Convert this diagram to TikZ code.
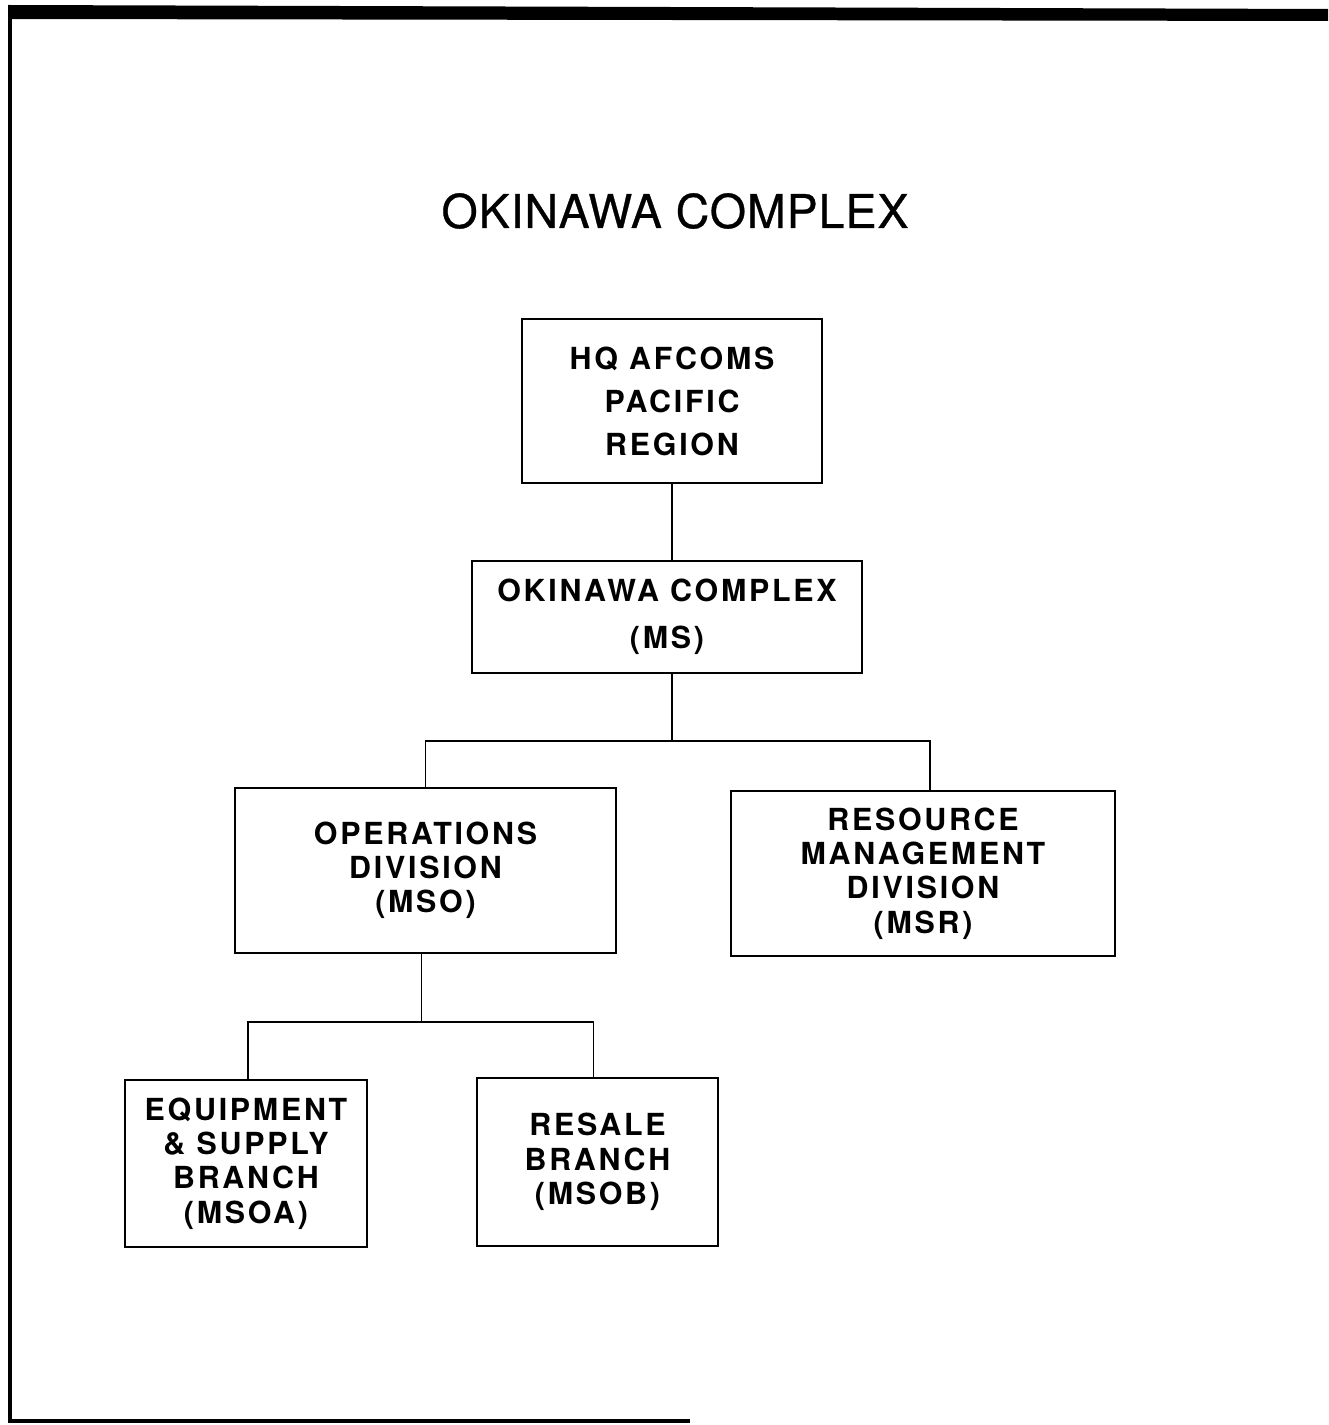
\documentclass[tikz,border=0pt]{standalone}
\usepackage{fontspec}
\setmainfont{TeX Gyre Heros}
\newfontfamily\boxfont[LetterSpace=9]{TeX Gyre Heros}
\newfontfamily\titlefont[LetterSpace=2, FakeBold=0.6]{TeX Gyre Heros}
\usetikzlibrary{calc}
\tikzset{
	orgbox/.style={draw, line width=1.1pt, align=center, inner sep=0pt,
		font={\boxfont\fontsize{17.3}{19.5}\selectfont\bfseries}},
	link/.style={line width=0.8pt},
	heading/.style={font={\titlefont\fontsize{26.5}{30}\selectfont}}
}

\begin{document}
\begin{tikzpicture}[x=0.02cm, y=-0.02cm]
		%%%%% START %%%%%
		\useasboundingbox (0, 0) rectangle (1328, 1425);
		
		\fill[black] (8, 5) -- (1328, 9) -- (1328, 21) -- (8, 19) -- cycle;
		\fill[black] (8, 5) rectangle (12, 1423);
		\fill[black] (8, 1419) rectangle (690, 1423);
		
		\node[heading] (title) at (675, 211) {OKINAWA COMPLEX};
		
		\node[orgbox, minimum width=6cm, minimum height=3.28cm] (hq) at (672, 401) {HQ AFCOMS\\[5pt]PACIFIC\\[5pt]REGION};
		\node[orgbox, minimum width=7.8cm, minimum height=2.24cm] (ms) at (667, 617) {OKINAWA COMPLEX\\[7pt](MS)};
		
		\node[orgbox, minimum width=7.62cm, minimum height=3.3cm] (mso) at (425.5, 870.5) {OPERATIONS\\DIVISION\\(MSO)};
		\node[orgbox, minimum width=7.68cm, minimum height=3.3cm] (msr) at (923, 873.5) {RESOURCE\\MANAGEMENT\\DIVISION\\(MSR)};
		
		\node[orgbox, minimum width=4.84cm, minimum height=3.34cm] (msoa) at (246, 1163.5) {EQUIPMENT\\\&\ SUPPLY\\BRANCH\\(MSOA)};
		\node[orgbox, minimum width=4.82cm, minimum height=3.36cm] (msob) at (597.5, 1162) {RESALE\\BRANCH\\(MSOB)};
		
		\draw[link] (hq.south) -- (hq.south |- ms.north);
		\draw[link] (hq.south |- ms.south) -- ++(0, 67) coordinate (msbus);
		\draw[link] (mso.north) |- (msbus) -| ($(msr.north)+(7, 0)$);
		
		\draw[link] ($(mso.south)+(-4, 0)$) -- ++(0, 68) coordinate (msobus);
		\draw[link] ($(msoa.north)+(2, 0)$) |- (msobus) -| ($(msob.north)+(-4, 0)$);
		
		%%%%% END %%%%%
	\end{tikzpicture}
\end{document}
